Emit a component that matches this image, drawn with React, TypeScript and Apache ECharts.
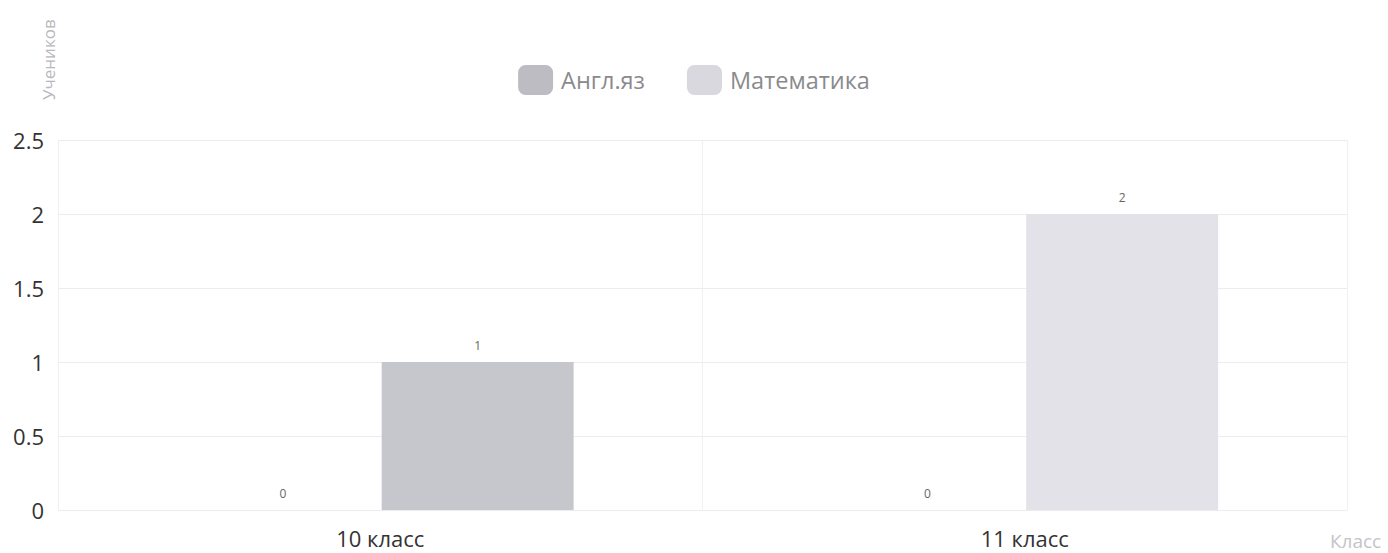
import React, { useEffect, useRef } from "react";
import * as echarts from "echarts";

const categories = ["10 класс", "11 класс"];
const englishValues = [0, 0];
const mathValues = [1, 2];
const seriesNames = ["Англ.яз", "Математика"];

export default function App() {
  const ref = useRef<HTMLDivElement>(null);
  useEffect(() => {
    if (!ref.current) return;
    const chart = echarts.init(ref.current, undefined, { renderer: "svg" });
    const font = "'Open Sans', 'Noto Sans', sans-serif";
    const engColor = "#bcbcc2";
    const mathColor = "#d8d8de";
    chart.setOption({
      animation: false,
      textStyle: { fontFamily: font },
      legend: {
        top: 60,
        left: "center",
        itemWidth: 35,
        itemHeight: 30,
        itemGap: 42,
        icon: "roundRect",
        textStyle: { fontSize: 23.5, color: "#8a8a8e", fontFamily: font, padding: [0, 0, 0, 3] },
        data: [
          { name: seriesNames[0], itemStyle: { color: engColor } },
          { name: seriesNames[1], itemStyle: { color: mathColor } },
        ],
      },
      grid: {
        left: 58,
        right: 41,
        top: 140,
        bottom: 43,
        containLabel: false,
        outerBoundsMode: "none",
      },
      xAxis: {
        type: "category",
        data: categories,
        name: "Класс",
        nameLocation: "end",
        nameGap: -17,
        nameTextStyle: {
          fontSize: 19,
          color: "#c4c4c8",
          align: "left",
          verticalAlign: "top",
          lineHeight: 62,
        },
        axisLine: { show: false },
        axisTick: { show: false },
        axisLabel: { fontSize: 22, color: "#333", margin: 17 },
        splitLine: { show: true, lineStyle: { color: "#f0f0f2" } },
      },
      yAxis: {
        type: "value",
        min: 0,
        max: 2.5,
        interval: 0.5,
        name: "Учеников",
        nameLocation: "end",
        nameRotate: 90,
        nameGap: 40,
        nameTextStyle: {
          fontSize: 17,
          color: "#b8b8bc",
          align: "left",
          verticalAlign: "bottom",
          lineHeight: 20,
        },
        axisLine: { show: false },
        axisTick: { show: false },
        axisLabel: { fontSize: 22, color: "#333", margin: 14 },
        splitLine: { show: true, lineStyle: { color: "#ececef" } },
      },
      series: [
        {
          name: seriesNames[0],
          type: "bar",
          data: englishValues,
          barGap: "1.5%",
          barCategoryGap: "40%",
          itemStyle: { color: engColor },
          label: { show: true, position: "top", distance: 11, fontSize: 12, color: "#666" },
        },
        {
          name: seriesNames[1],
          type: "bar",
          data: mathValues,
          barGap: "1.5%",
          barCategoryGap: "40%",
          itemStyle: {
            color: (p: any) => (p.dataIndex === 0 ? "#c6c6cd" : "#e2e2e8"),
          },
          label: { show: true, position: "top", distance: 11, fontSize: 12, color: "#666" },
        },
      ],
    });
    return () => chart.dispose();
  }, []);
  return (
    <div
      ref={ref}
      style={{ position: "fixed", left: 0, top: 0, width: 1388, height: 553, background: "#fff" }}
    />
  );
}
